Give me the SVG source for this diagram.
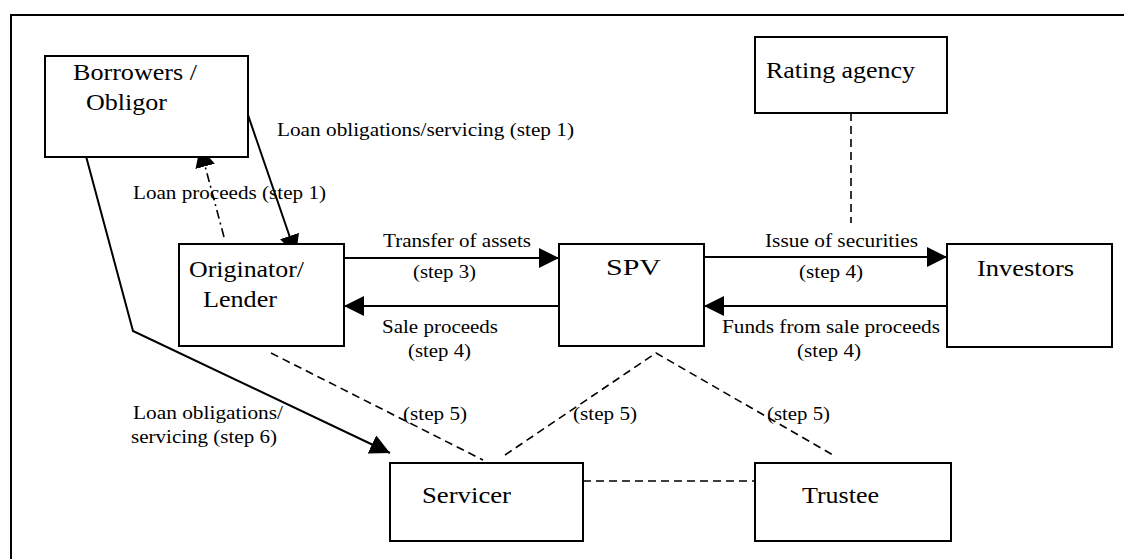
<svg xmlns="http://www.w3.org/2000/svg" width="1124" height="559" viewBox="0 0 1124 559">
<style>
.box{fill:#fff;stroke:#000;stroke-width:2}
text{fill:#000;font-family:'Times New Roman','Liberation Serif',Times,serif}
.n{font-size:24px}
.l{font-size:19.5px}
.c{fill:none;stroke:#000;stroke-width:2}
.d{fill:none;stroke:#000;stroke-width:1.6;stroke-dasharray:8,5}
.dd{fill:none;stroke:#000;stroke-width:1.6;stroke-dasharray:9,4,2,4}
</style>
<defs>
<marker id="ah" markerUnits="userSpaceOnUse" markerWidth="20" markerHeight="20" viewBox="0 0 20 20" refX="20" refY="10" orient="auto">
<path d="M0,0 L20,10 L0,20 Z" fill="#000"/>
</marker>
</defs>
<rect width="1124" height="559" fill="#fff"/>
<path d="M1124 15 H11 V559" fill="none" stroke="#000" stroke-width="2"/>

<g id="connectors">
<path class="c" d="M248 115 L296 255" marker-end="url(#ah)"/>
<path class="dd" d="M224 237 L200 147" marker-end="url(#ah)"/>
<path class="c" d="M83 145 L133 331 L390 453" marker-end="url(#ah)"/>
<path class="c" d="M344 258 L559 258" marker-end="url(#ah)"/>
<path class="c" d="M559 306 L344 306" marker-end="url(#ah)"/>
<path class="c" d="M704 257 L947 257" marker-end="url(#ah)"/>
<path class="c" d="M947 306 L704 306" marker-end="url(#ah)"/>
<path class="d" d="M851 113 L851 223"/>
<path class="d" d="M271 353 L483 460"/>
<path class="d" d="M505 455 L656 353 L833 455"/>
<path class="d" d="M583 481 L755 481"/>
</g>

<g id="labels">
<text class="l" x="277" y="136" textLength="297" lengthAdjust="spacingAndGlyphs">Loan obligations/servicing (step 1)</text>
<text class="l" x="133" y="199" textLength="193" lengthAdjust="spacingAndGlyphs">Loan proceeds (step 1)</text>
<text class="l" x="383" y="247" textLength="148" lengthAdjust="spacingAndGlyphs">Transfer of assets</text>
<text class="l" x="413" y="278" textLength="63" lengthAdjust="spacingAndGlyphs">(step 3)</text>
<text class="l" x="382" y="333" textLength="116" lengthAdjust="spacingAndGlyphs">Sale proceeds</text>
<text class="l" x="408" y="357" textLength="63" lengthAdjust="spacingAndGlyphs">(step 4)</text>
<text class="l" x="765" y="247" textLength="153" lengthAdjust="spacingAndGlyphs">Issue of securities</text>
<text class="l" x="799" y="278" textLength="64" lengthAdjust="spacingAndGlyphs">(step 4)</text>
<text class="l" x="722" y="333" textLength="218" lengthAdjust="spacingAndGlyphs">Funds from sale proceeds</text>
<text class="l" x="797" y="357" textLength="64" lengthAdjust="spacingAndGlyphs">(step 4)</text>
<text class="l" x="133" y="419" textLength="150" lengthAdjust="spacingAndGlyphs">Loan obligations/</text>
<text class="l" x="131" y="443" textLength="146" lengthAdjust="spacingAndGlyphs">servicing (step 6)</text>
<text class="l" x="403" y="420" textLength="64" lengthAdjust="spacingAndGlyphs">(step 5)</text>
<text class="l" x="573" y="420" textLength="64" lengthAdjust="spacingAndGlyphs">(step 5)</text>
<text class="l" x="767" y="420" textLength="63" lengthAdjust="spacingAndGlyphs">(step 5)</text>
</g>

<g id="nodes">
<g id="borrowers">
<rect class="box" x="45" y="56" width="203" height="101"/>
<text class="n" x="73" y="80" textLength="124" lengthAdjust="spacingAndGlyphs">Borrowers /</text>
<text class="n" x="86" y="110" textLength="81" lengthAdjust="spacingAndGlyphs">Obligor</text>
</g>
<g id="rating-agency">
<rect class="box" x="755" y="37" width="192" height="76"/>
<text class="n" x="766" y="78" textLength="149" lengthAdjust="spacingAndGlyphs">Rating agency</text>
</g>
<g id="originator">
<rect class="box" x="179" y="244" width="165" height="102"/>
<text class="n" x="189" y="277" textLength="115" lengthAdjust="spacingAndGlyphs">Originator/</text>
<text class="n" x="203" y="307" textLength="74" lengthAdjust="spacingAndGlyphs">Lender</text>
</g>
<g id="spv">
<rect class="box" x="559" y="244" width="145" height="102"/>
<text class="n" x="606" y="275" textLength="55" lengthAdjust="spacingAndGlyphs">SPV</text>
</g>
<g id="investors">
<rect class="box" x="947" y="244" width="165" height="103"/>
<text class="n" x="977" y="276" textLength="97" lengthAdjust="spacingAndGlyphs">Investors</text>
</g>
<g id="servicer">
<rect class="box" x="390" y="463" width="193" height="78"/>
<text class="n" x="422" y="503" textLength="89" lengthAdjust="spacingAndGlyphs">Servicer</text>
</g>
<g id="trustee">
<rect class="box" x="755" y="463" width="196" height="78"/>
<text class="n" x="802" y="503" textLength="77" lengthAdjust="spacingAndGlyphs">Trustee</text>
</g>
</g>
</svg>
